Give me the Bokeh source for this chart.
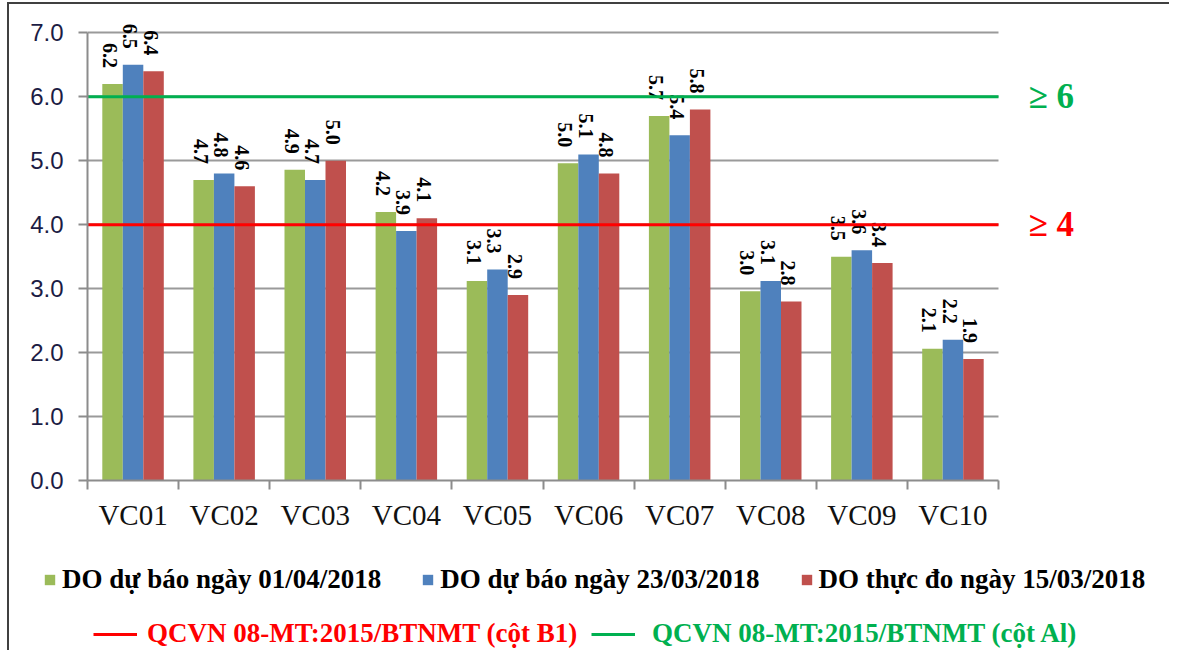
import math
from bokeh.plotting import figure
from bokeh.models import (Range1d, FixedTicker, Legend, LegendItem, Label,
                          ColumnDataSource, PrintfTickFormatter)
from bokeh.core.properties import value
from bokeh.embed import file_html
from bokeh.resources import INLINE

# ---------------- data ----------------
categories = ["VC01", "VC02", "VC03", "VC04", "VC05", "VC06", "VC07", "VC08", "VC09", "VC10"]
do_forecast_0104 = [6.2, 4.7, 4.86, 4.2, 3.12, 4.96, 5.7, 2.96, 3.5, 2.06]
do_forecast_2303 = [6.5, 4.8, 4.7, 3.9, 3.3, 5.1, 5.4, 3.12, 3.6, 2.2]
do_measured_1503 = [6.4, 4.6, 5.0, 4.1, 2.9, 4.8, 5.8, 2.8, 3.4, 1.9]
series_names = ["DO dự báo ngày 01/04/2018", "DO dự báo ngày 23/03/2018",
                "DO thực đo ngày 15/03/2018"]
series_colors = ["#9BBB59", "#4F81BD", "#C0504D"]
threshold_values = [4, 6]
threshold_names = ["QCVN 08-MT:2015/BTNMT (cột B1)", "QCVN 08-MT:2015/BTNMT (cột Al)"]
threshold_marks = ["≥ 4", "≥ 6"]
threshold_colors = ["#FF0000", "#00B050"]
y_ticks = [0, 1, 2, 3, 4, 5, 6, 7]

SERIF = "Liberation Serif"
n = len(categories)
bar_w = 0.225
offsets = [-bar_w, 0.0, bar_w]
series = [do_forecast_0104, do_forecast_2303, do_measured_1503]

FIG_W = 1160
LEFT = 78
PLOT_W = 911            # pixels covered by the 10 categories
FRAME_W = FIG_W - LEFT
PX_PER_UNIT_Y = 64
Y_TOP = 7.35
BORDER = "2px solid #404040"

p = figure(frame_width=FRAME_W, frame_height=int(round(Y_TOP * PX_PER_UNIT_Y)),
           x_range=Range1d(0, n * FRAME_W / PLOT_W), y_range=Range1d(0, Y_TOP),
           output_backend="svg", toolbar_location=None,
           min_border_left=LEFT, min_border_right=0,
           min_border_top=6, min_border_bottom=60)
p.outline_line_color = None
p.background_fill_color = "white"
p.border_fill_color = "white"
p.styles = {"margin-left": "7px", "margin-top": "2px",
            "border-left": BORDER, "border-top": BORDER}

# x axis
xa = p.xaxis[0]
xa.bounds = (0, n)
xa.ticker = FixedTicker(ticks=[i + 0.5 for i in range(n)], minor_ticks=list(range(n + 1)))
xa.major_label_overrides = {i + 0.5: c for i, c in enumerate(categories)}
xa.major_tick_out = 0
xa.major_tick_in = 0
xa.minor_tick_out = 9
xa.minor_tick_in = 0
xa.minor_tick_line_color = "#8c8c8c"
xa.minor_tick_line_width = 2
xa.axis_line_color = "#8c8c8c"
xa.axis_line_width = 2
xa.major_label_text_font = SERIF
xa.major_label_text_font_size = "29px"
xa.major_label_text_color = "#111111"
xa.major_label_standoff = 9

# y axis
ya = p.yaxis[0]
ya.bounds = (y_ticks[0], y_ticks[-1])
ya.ticker = FixedTicker(ticks=y_ticks, minor_ticks=[])
ya.formatter = PrintfTickFormatter(format="%.1f")
ya.major_tick_out = 9
ya.major_tick_in = 0
ya.major_tick_line_color = "#8c8c8c"
ya.major_tick_line_width = 2
ya.axis_line_color = "#8c8c8c"
ya.axis_line_width = 2
ya.major_label_text_font = "Liberation Sans"
ya.major_label_text_font_size = "24px"
ya.major_label_text_color = "#1c1c44"
ya.major_label_standoff = 15

# grid lines, limited to the category span
p.xgrid.visible = False
grid_ticks = y_ticks[1:]
if "cross_bounds" in p.ygrid.properties():
    p.ygrid.ticker = FixedTicker(ticks=grid_ticks, minor_ticks=[])
    p.ygrid.cross_bounds = (0, n)
    p.ygrid.grid_line_color = "#9a9a9a"
    p.ygrid.grid_line_width = 2
else:
    p.ygrid.visible = False
    p.segment(x0=[0] * len(grid_ticks), x1=[n] * len(grid_ticks), y0=grid_ticks, y1=grid_ticks,
              line_color="#9a9a9a", line_width=2)

# bars + rotated value labels
for vals, off, col in zip(series, offsets, series_colors):
    xs = [i + 0.5 + off for i in range(n)]
    src = ColumnDataSource(dict(x=xs, top=vals, lab=[f"{v:.1f}" for v in vals]))
    p.vbar(x="x", top="top", bottom=0, width=bar_w, source=src,
           fill_color=col, line_color=None)
    p.text(x="x", y="top", text="lab", source=src, angle=-math.pi / 2,
           text_align="right", text_baseline="middle", x_offset=-3, y_offset=-16,
           text_font=value(SERIF), text_font_style="bold",
           text_font_size="20px", text_color="black")

# threshold lines with their marks
for tv, col, mark in zip(threshold_values, threshold_colors, threshold_marks):
    p.line(x=[0, n], y=[tv, tv], line_color=col, line_width=3)
    p.add_layout(Label(x=n, y=tv, text=mark, x_offset=30, text_baseline="middle",
                       text_font=SERIF, text_font_style="bold",
                       text_font_size="35px", text_color=col))

# ---------------- legend strip (separate root, so its frame is not aligned) ----------------
LEG_H = 110
lf = figure(width=FIG_W, height=LEG_H, x_range=Range1d(0, n), y_range=Range1d(0, Y_TOP),
            output_backend="svg", toolbar_location=None,
            x_axis_location=None, y_axis_location=None,
            min_border_left=0, min_border_right=0, min_border_top=0, min_border_bottom=0)
lf.outline_line_color = None
lf.xgrid.visible = False
lf.ygrid.visible = False
lf.styles = {"margin-left": "7px", "border-left": BORDER}

bar_items = []
for nm, vals, off, col in zip(series_names, series, offsets, series_colors):
    r = lf.vbar(x=[i + 0.5 + off for i in range(n)], top=vals, width=bar_w,
                fill_color=col, line_color=None, visible=False)
    bar_items.append(LegendItem(label=nm, renderers=[r]))
line_rs = []
for tv, col in zip(threshold_values, threshold_colors):
    line_rs.append(lf.line(x=[0, n], y=[tv, tv], line_color=col, line_width=3, visible=False))


def make_legend(items, loc, glyph_w, glyph_h, standoff, spacing, color):
    lg = Legend(items=items, location=loc, orientation="horizontal",
                glyph_width=glyph_w, glyph_height=glyph_h,
                label_standoff=standoff, spacing=spacing,
                padding=0, margin=0, border_line_color=None,
                background_fill_alpha=0, inactive_fill_alpha=0,
                label_text_font=SERIF, label_text_font_style="bold",
                label_text_font_size="27px", label_text_color=color)
    lf.add_layout(lg, "center")


make_legend(bar_items, (34, 55), 13, 13, 6, 40, "black")
make_legend([LegendItem(label=threshold_names[0], renderers=[line_rs[0]])],
            (84, 1), 44, 20, 10, 0, threshold_colors[0])
make_legend([LegendItem(label=threshold_names[1], renderers=[line_rs[1]])],
            (582, 1), 44, 20, 17, 0, threshold_colors[1])

open("out.html", "w").write(file_html([p, lf], INLINE))
